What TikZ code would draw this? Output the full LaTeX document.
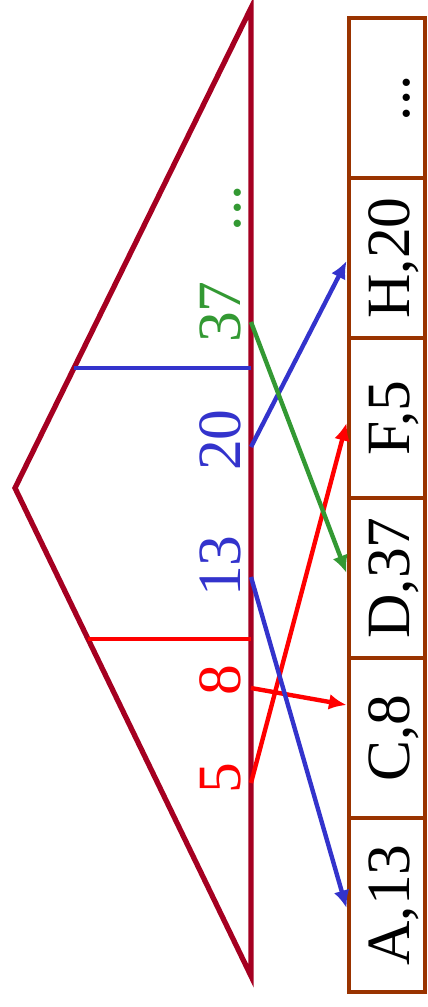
\documentclass[tikz,border=0pt]{standalone}
\usepackage{fontspec}
\usepackage{graphicx}
\setmainfont{Liberation Serif}
\usetikzlibrary{arrows.meta,calc}
\definecolor{ctree}{RGB}{165,  0, 33}
\definecolor{cbox}{RGB}{153, 51,  0}
\definecolor{cred}{RGB}{255,  0,  0}
\definecolor{cblue}{RGB}{ 51, 51,204}
\definecolor{cgreen}{RGB}{ 51,153, 51}
\newcommand{\bigtext}{\fontsize{35}{40}\selectfont}
% rotated cell text, baseline kept at the same place in every cell
\newcommand{\celltext}[1]{\rotatebox{90}{\raisebox{0pt}[26pt][0pt]{#1}}}

\begin{document}
\begin{tikzpicture}[x=0.02cm,y=-0.02cm,
    tree/.style={ctree,line width=3pt},
    cell/.style={draw=cbox,line width=2.8pt,minimum width=1.52cm,
      minimum height=3.2cm,inner sep=0pt,font=\bigtext},
    key/.style={rotate=90,anchor=base,font=\bigtext},
    split/.style={line width=2.5pt},
    link/.style={line width=2.5pt,-{Latex[length=10pt,width=9pt]}}]

  % Explicit bounding box, same frame as the 428x1007 page.
  \useasboundingbox (0,0) rectangle (428,1007);

  % ---------------- Tree (left) ----------------
  \coordinate (top) at (251,8);
  \coordinate (tip) at (15,488);
  \coordinate (bot) at (251,976);
  \draw[tree] (top) -- (tip) -- (bot) -- cycle;

  % split bars inside the tree
  \coordinate (redcut)  at ($(tip)!0.31!(bot)$);
  \coordinate (bluecut) at ($(tip)!0.25!(top)$);
  \draw[split,cred]  (redcut)  -- (redcut -| top);
  \draw[split,cblue] (bluecut) -- (bluecut -| top);

  % keys along the spine
  \node[key,cred]   (l5)    at (240,778) {5};
  \node[key,cred]   (l8)    at (240,680) {8};
  \node[key,cblue]  (l13)   at (240,566) {13};
  \node[key,cblue]  (l20)   at (240,440) {20};
  \node[key,cgreen] (l37)   at (240,312) {37};
  \node[key,cgreen] (lmore) at (240,208) {...};

  % ---------------- Cells (right) ----------------
  \node[cell] (more) at (387, 98) {\celltext{...}};
  \node[cell] (h20)  at (387,258) {\celltext{H,20}};
  \node[cell] (f5)   at (387,418) {\celltext{F,5}};
  \node[cell] (d37)  at (387,578) {\celltext{D,37}};
  \node[cell] (c8)   at (387,738) {\celltext{C,8}};
  \node[cell,minimum height=3.48cm] (a13) at (387,905) {\celltext{A,13}};

  % ---------------- Pointers ----------------
  \coordinate (k5)  at (251,783);
  \coordinate (k8)  at (251,688);
  \coordinate (k13) at (251,577);
  \coordinate (k20) at (251,447);
  \coordinate (k37) at (251,322);

  \draw[link,cred]   (k5)  -- ([yshift=-0.1cm]f5.west);
  \draw[link,cred]   (k8)  -- ([yshift=0.66cm]c8.west);
  \draw[link,cblue]  (k13) -- ([yshift=-0.06cm]a13.west);
  \draw[link,cblue]  (k20) -- ([yshift=-0.06cm]h20.west);
  \draw[link,cgreen] (k37) -- ([yshift=0.1cm]d37.west);

\end{tikzpicture}
\end{document}
